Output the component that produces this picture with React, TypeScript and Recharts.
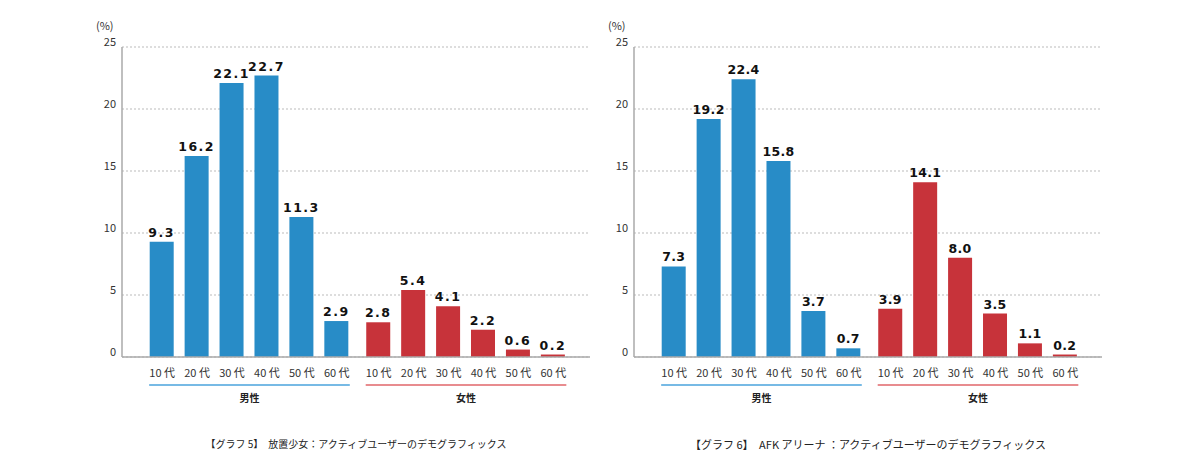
import React from "react";
import { BarChart, Bar, XAxis, YAxis, CartesianGrid, Cell, LabelList } from "recharts";

// age brackets & sex groups
const ages = ["10 代", "20 代", "30 代", "40 代", "50 代", "60 代"];
const groups = ["男性", "女性"];
const yTicks = [0, 5, 10, 15, 20, 25];

// 放置少女 (%)
const houchiMale = [9.3, 16.2, 22.1, 22.7, 11.3, 2.9];
const houchiFemale = [2.8, 5.4, 4.1, 2.2, 0.6, 0.2];

// AFK アリーナ (%)
const afkMale = [7.3, 19.2, 22.4, 15.8, 3.7, 0.7];
const afkFemale = [3.9, 14.1, 8.0, 3.5, 1.1, 0.2];

const captions = [
  "【グラフ 5】　放置少女：アクティブユーザーのデモグラフィックス",
  "【グラフ 6】　AFK アリーナ ：アクティブユーザーのデモグラフィックス",
];

const blue = "#288cc7";
const red = "#c7333a";
const groupLine = ["#4aa3dc", "#e0666a"];
const jp = '"Noto Sans CJK JP", "Noto Sans", sans-serif';

// layout (bar slots are index units, women offset by a small extra gap)
const W = 600;
const H = 420;
const BAR = 24;
const FEMALE_OFFSET = ages.length + 0.2;
const X_DOMAIN: [number, number] = [-1.15, 12.25];
const PLOT_LEFT = 122;
const PLOT_RIGHT = 590;
const PX_PER_UNIT = (PLOT_RIGHT - PLOT_LEFT) / (X_DOMAIN[1] - X_DOMAIN[0]);

function buildRows(male: number[], female: number[]) {
  return [
    ...male.map((v, i) => ({ pos: i, value: v, g: 0 })),
    ...female.map((v, i) => ({ pos: i + FEMALE_OFFSET, value: v, g: 1 })),
  ];
}

const groupCenters = [(ages.length - 1) / 2, FEMALE_OFFSET + (ages.length - 1) / 2];

function AgeTick(props: any) {
  const { x, y, index } = props;
  return (
    <text x={x} y={y + 20} textAnchor="middle" fontSize={11} fill="#333" fontFamily={jp}>
      {ages[index % ages.length]}
    </text>
  );
}

function GroupTick(props: any) {
  const { x, y, index } = props;
  const half = ((ages.length - 1) / 2) * PX_PER_UNIT + BAR / 2 + 1;
  return (
    <g>
      <line x1={x - half} x2={x + half} y1={y + 6} y2={y + 6} stroke={groupLine[index]} strokeWidth={1.5} />
      <text x={x} y={y + 23} textAnchor="middle" fontSize={10} fontWeight={700} fill="#222" fontFamily={jp}>
        {groups[index]}
      </text>
    </g>
  );
}

function YTick(props: any) {
  const { x, y, payload } = props;
  return (
    <text x={x} y={y - 1} textAnchor="end" fontSize={11} fill="#333" fontFamily={jp}>
      {payload.value}
    </text>
  );
}

function Panel({
  male,
  female,
  left,
  caption,
  captionSize,
  spacing,
}: {
  male: number[];
  female: number[];
  left: number;
  caption: string;
  captionSize: number;
  spacing: number;
}) {
  const rows = buildRows(male, female);
  return (
    <div style={{ position: "absolute", left, top: 0, width: W, height: 470 }}>
      <div style={{ position: "absolute", left: 96, top: 17, fontSize: 11, color: "#333", fontFamily: jp }}>(%)</div>
      <BarChart
        width={W}
        height={H}
        data={rows}
        margin={{ top: 47, right: W - PLOT_RIGHT, left: PLOT_LEFT - 40, bottom: 5 }}
      >
        <CartesianGrid vertical={false} stroke="#bbb" strokeDasharray="2 2" />
        <XAxis
          dataKey="pos"
          type="number"
          domain={X_DOMAIN}
          ticks={rows.map((r) => r.pos)}
          interval={0}
          height={22}
          tickSize={0}
          tickMargin={0}
          tickLine={false}
          axisLine={{ stroke: "#aaa", strokeWidth: 1.5 }}
          tick={<AgeTick />}
        />
        <XAxis
          xAxisId="grp"
          dataKey="pos"
          type="number"
          domain={X_DOMAIN}
          ticks={groupCenters}
          interval={0}
          height={36}
          tickSize={0}
          tickMargin={0}
          tickLine={false}
          axisLine={false}
          tick={<GroupTick />}
        />
        <YAxis
          domain={[0, 25]}
          ticks={yTicks}
          width={40}
          tickSize={0}
          tickMargin={6}
          tickLine={false}
          axisLine={{ stroke: "#aaa", strokeWidth: 1.5 }}
          tick={<YTick />}
        />
        <Bar dataKey="value" barSize={BAR} isAnimationActive={false}>
          {rows.map((r, i) => (
            <Cell key={i} fill={r.g === 0 ? blue : red} />
          ))}
          <LabelList
            dataKey="value"
            position="top"
            offset={5}
            formatter={(v: any) => Number(v).toFixed(1)}
            style={{
              fontSize: 12.5,
              fontWeight: 700,
              fill: "#111",
              fontFamily: '"DejaVu Sans", sans-serif',
              letterSpacing: spacing,
            }}
          />
        </Bar>
      </BarChart>
      <div
        style={{
          position: "absolute",
          left: PLOT_LEFT - 20,
          width: PLOT_RIGHT - PLOT_LEFT + 40,
          top: 436,
          textAlign: "center",
          fontSize: captionSize,
          color: "#222",
          fontFamily: jp,
          whiteSpace: "pre",
        }}
      >
        {caption}
      </div>
    </div>
  );
}

export default function App() {
  return (
    <div style={{ position: "absolute", left: 0, top: 0, width: 1200, height: 470, background: "#fff" }}>
      <Panel male={houchiMale} female={houchiFemale} left={0} caption={captions[0]} captionSize={10} spacing={1.5} />
      <Panel male={afkMale} female={afkFemale} left={512} caption={captions[1]} captionSize={11} spacing={0.3} />
    </div>
  );
}
